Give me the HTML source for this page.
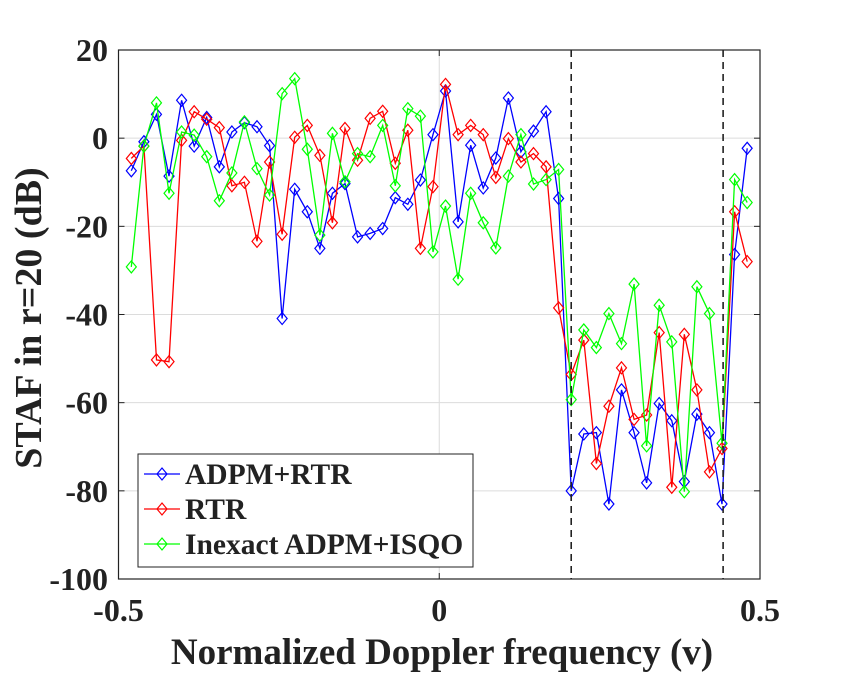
<!DOCTYPE html>
<html><head><meta charset="utf-8"><style>
html,body{margin:0;padding:0;background:#fff;}
svg text{font-family:"Liberation Serif",serif;font-weight:bold;fill:#222;}
</style></head><body>
<svg id="chart" width="841" height="672" xmlns="http://www.w3.org/2000/svg">
<g id="grid"></g>
<g id="marks"></g>
<g id="axes"></g>
<text x="442" y="664" font-size="37" text-anchor="middle">Normalized Doppler frequency (v)</text>
<text transform="translate(41,318) rotate(-90)" font-size="38" text-anchor="middle">STAF in r=20 (dB)</text>
<g id="legend">
<rect x="138" y="454" width="335" height="113" fill="#fff" stroke="#222" stroke-width="1"/>
</g>
</svg>
<script>
const xTicks=[-0.5,0,0.5];
const xTickLabels=["-0.5","0","0.5"];
const yTicks=[-100,-80,-60,-40,-20,0,20];
const yTickLabels=["-100","-80","-60","-40","-20","0","20"];
const dashedLines=[0.2057,0.4425];
const seriesNames=["ADPM+RTR","RTR","Inexact ADPM+ISQO"];
const seriesColors=["#0000ff","#ff0000","#00ff00"];
const blueVals=[-7.4,-0.8,5.4,-8.6,8.6,-1.8,4.7,-6.5,1.4,3.5,2.6,-1.7,-40.9,-11.6,-16.7,-25,-12.5,-10.3,-22.4,-21.6,-20.5,-13.5,-15,-9.5,0.8,10.7,-19,-1.6,-11.3,-4.5,9.1,-3.1,1.6,6.0,-13.7,-80,-67.1,-66.8,-83,-57.1,-66.8,-78.2,-60.2,-64.1,-77.9,-62.6,-66.8,-83,-26.4,-2.3];
const redVals=[-4.6,-1.8,-50.3,-50.7,-0.5,6.0,4.3,2.4,-10.8,-10,-23.4,-5.4,-21.8,0.2,2.9,-3.9,-19.2,2.2,-5,4.5,6.1,-5.7,1.8,-25,-11,12.2,0.8,2.9,0.8,-8.9,-0.1,-5.4,-3.5,-6.5,-38.5,-53.6,-45.8,-73.8,-60.8,-52.1,-63.8,-62.8,-44.1,-79.2,-44.5,-57.1,-75.7,-70.4,-16.7,-28];
const greenVals=[-29.2,-1.8,8.0,-12.5,1.4,0.7,-4.2,-14.2,-7.9,3.7,-6.9,-12.9,10.1,13.5,-2.5,-22,1.1,-9.9,-3.5,-4.2,2.9,-10.8,6.7,5,-25.8,-15.4,-32,-12.5,-19.2,-24.9,-8.6,0.8,-10.4,-9.4,-7.1,-59.3,-43.5,-47.5,-39.8,-46.6,-33.1,-69.8,-37.9,-46.2,-80.2,-33.7,-39.8,-69.2,-9.4,-14.6];
const NS="http://www.w3.org/2000/svg";
const L=118.5,R=760,T=50,B=579;
const xs=v=>L+(v+0.5)*(R-L);
const ys=v=>T+(20-v)/120*(B-T);
function mk(tag,attrs,parent){const e=document.createElementNS(NS,tag);for(const k in attrs)e.setAttribute(k,attrs[k]);parent.appendChild(e);return e;}
const grid=document.getElementById('grid'),axes=document.getElementById('axes'),marks=document.getElementById('marks');
mk('rect',{x:L,y:T,width:R-L,height:B-T,fill:'#fff'},grid);
yTicks.forEach((t,i)=>{
 const g=mk('line',{x1:L,x2:R,y1:ys(t),y2:ys(t),stroke:'#dcdcdc','stroke-width':1},grid);
 
 
 mk('line',{x1:L,x2:L+6,y1:ys(t),y2:ys(t),stroke:'#222'},axes);
 mk('line',{x1:R,x2:R-6,y1:ys(t),y2:ys(t),stroke:'#222'},axes);
 const tx=mk('text',{x:108,y:ys(t)+11,'font-size':32,'text-anchor':'end'},axes);
 tx.textContent=yTickLabels[i];
 
 
});
xTicks.forEach((t,i)=>{
 const g=mk('line',{x1:xs(t),x2:xs(t),y1:T,y2:B,stroke:'#dcdcdc','stroke-width':1},grid);
 
 
 mk('line',{x1:xs(t),x2:xs(t),y1:B,y2:B-6,stroke:'#222'},axes);
 mk('line',{x1:xs(t),x2:xs(t),y1:T,y2:T+6,stroke:'#222'},axes);
 const tx=mk('text',{x:xs(t),y:621,'font-size':32,'text-anchor':'middle'},axes);
 tx.textContent=xTickLabels[i];
 
 
});
const frame=mk('rect',{x:L,y:T,width:R-L,height:B-T,fill:'none',stroke:'#222','stroke-width':1.2},axes);


const allVals=[blueVals,redVals,greenVals];
const N=blueVals.length;
const xv=i=>-0.48+0.96*i/(N-1);
function diamond(cx,cy,c,parent){return mk('path',{d:`M${cx} ${cy-6}L${cx+5} ${cy}L${cx} ${cy+6}L${cx-5} ${cy}Z`,fill:'none',stroke:c,'stroke-width':1.2},parent);}
allVals.forEach((vals,s)=>{
 const g=mk('g',{},marks);
 
 
 const pts=vals.map((v,i)=>xs(xv(i)).toFixed(1)+','+ys(v).toFixed(1)).join(' ');
 const pl=mk('polyline',{points:pts,fill:'none',stroke:seriesColors[s],'stroke-width':1.3},g);
 
 
 vals.forEach((v,i)=>{
  const d=diamond(xs(xv(i)),ys(v),seriesColors[s],g);
  
  
 });
});
dashedLines.forEach(v=>{
 const d=mk('line',{x1:xs(v),x2:xs(v),y1:T,y2:B,stroke:'#222','stroke-width':1.6,'stroke-dasharray':'7,5'},marks);
 
 
});
const leg=document.getElementById('legend');
seriesNames.forEach((n,s)=>{
 const y=474+35*s;
 const g=mk('g',{},leg);
 
 
 mk('line',{x1:144,x2:180,y1:y,y2:y,stroke:seriesColors[s],'stroke-width':1.3},g);
 diamond(162,y,seriesColors[s],g);
 const t=mk('text',{x:185,y:y+10,'font-size':29.5},g);
 t.textContent=n;
});
</script>
</body></html>
